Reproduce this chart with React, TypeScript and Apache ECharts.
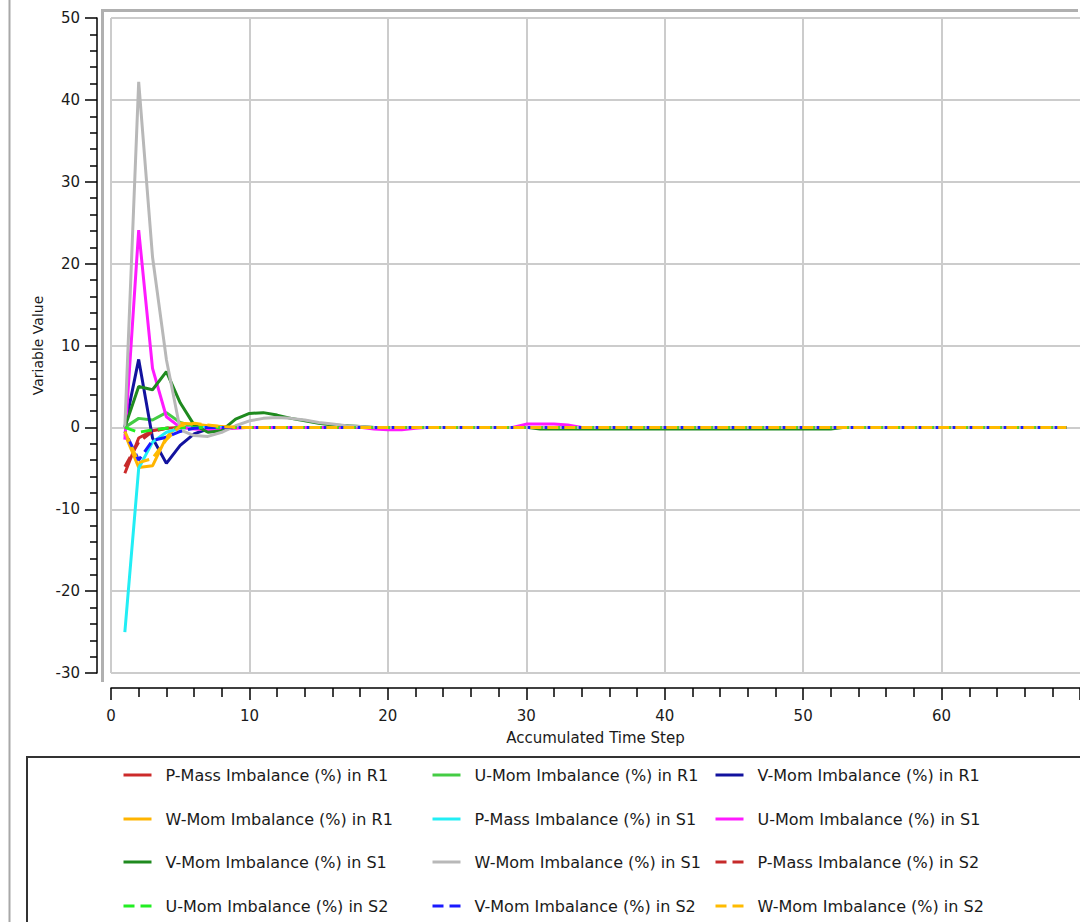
import React, { useEffect, useRef } from "react";
import * as echarts from "echarts";

// Accumulated time steps
const STEPS = [
  1, 2, 3, 4, 5, 6, 7, 8, 9, 10,
  11, 12, 13, 14, 15, 16, 17, 18, 19, 20,
  21, 22, 23, 24, 25, 26, 27, 28, 29, 30,
  31, 32, 33, 34, 35, 36, 37, 38, 39, 40,
  41, 42, 43, 44, 45, 46, 47, 48, 49, 50,
  51, 52, 53, 54, 55, 56, 57, 58, 59, 60,
  61, 62, 63, 64, 65, 66, 67, 68, 69,
];

const P_MASS_R1 = [
  -5.6, -1.3, -0.4, -0.1, 0, 0, 0, 0, 0, 0,
  0, 0, 0, 0, 0, 0, 0, 0, 0, 0,
  0, 0, 0, 0, 0, 0, 0, 0, 0, 0,
  0, 0, 0, 0, 0, 0, 0, 0, 0, 0,
  0, 0, 0, 0, 0, 0, 0, 0, 0, 0,
  0, 0, 0, 0, 0, 0, 0, 0, 0, 0,
  0, 0, 0, 0, 0, 0, 0, 0, 0,
];
const U_MOM_R1 = [
  0, 1.1, 0.9, 1.8, 0.6, 0.1, 0, 0, 0, 0,
  0, 0, 0, 0, 0, 0, 0, 0, 0, 0,
  0, 0, 0, 0, 0, 0, 0, 0, 0, 0,
  0, 0, 0, 0, 0, 0, 0, 0, 0, 0,
  0, 0, 0, 0, 0, 0, 0, 0, 0, 0,
  0, 0, 0, 0, 0, 0, 0, 0, 0, 0,
  0, 0, 0, 0, 0, 0, 0, 0, 0,
];
const V_MOM_R1 = [
  0, 8.3, -1.3, -4.4, -2.2, -0.8, -0.2, 0, 0, 0,
  0, 0, 0, 0, 0, 0, 0, 0, 0, 0,
  0, 0, 0, 0, 0, 0, 0, 0, 0, 0,
  0, 0, 0, 0, 0, 0, 0, 0, 0, 0,
  0, 0, 0, 0, 0, 0, 0, 0, 0, 0,
  0, 0, 0, 0, 0, 0, 0, 0, 0, 0,
  0, 0, 0, 0, 0, 0, 0, 0, 0,
];
const W_MOM_R1 = [
  -0.8, -4.9, -4.7, -1.2, 0.5, 0.4, 0.2, 0.1, 0, 0,
  0, 0, 0, 0, 0, 0, 0, 0, 0, 0,
  0, 0, 0, 0, 0, 0, 0, 0, 0, 0,
  0, 0, 0, 0, 0, 0, 0, 0, 0, 0,
  0, 0, 0, 0, 0, 0, 0, 0, 0, 0,
  0, 0, 0, 0, 0, 0, 0, 0, 0, 0,
  0, 0, 0, 0, 0, 0, 0, 0, 0,
];
const P_MASS_S1 = [
  -25.0, -5.0, -1.8, -0.6, -0.1, 0, 0, 0, 0, 0,
  0, 0, 0, 0, 0, 0, 0, 0, 0, 0,
  0, 0, 0, 0, 0, 0, 0, 0, 0, 0,
  0, 0, 0, 0, 0, 0, 0, 0, 0, 0,
  0, 0, 0, 0, 0, 0, 0, 0, 0, 0,
  0, 0, 0, 0, 0, 0, 0, 0, 0, 0,
  0, 0, 0, 0, 0, 0, 0, 0, 0,
];
const U_MOM_S1 = [
  -1.5, 24.1, 7.2, 1.3, 0, -0.2, -0.3, -0.2, -0.1, 0,
  0, 0, 0, 0, 0, 0, 0, 0, -0.2, -0.3,
  -0.3, -0.1, 0, 0, 0, 0, 0, 0, 0, 0.4,
  0.4, 0.4, 0.3, 0, 0, 0, 0, 0, 0, 0,
  0, 0, 0, 0, 0, 0, 0, 0, 0, 0,
  0, 0, 0, 0, 0, 0, 0, 0, 0, 0,
  0, 0, 0, 0, 0, 0, 0, 0, 0,
];
const V_MOM_S1 = [
  0, 5.0, 4.6, 6.8, 3.0, 0.3, -0.6, -0.4, 1.0, 1.7,
  1.8, 1.5, 1.1, 0.8, 0.5, 0.3, 0.2, 0.1, 0, 0,
  0, 0, 0, 0, 0, 0, 0, 0, 0, 0,
  -0.2, -0.2, -0.2, -0.2, -0.2, -0.2, -0.2, -0.2, -0.2, -0.2,
  -0.2, -0.2, -0.2, -0.2, -0.2, -0.2, -0.2, -0.2, -0.2, -0.2,
  -0.2, -0.2, 0, 0, 0, 0, 0, 0, 0, 0,
  0, 0, 0, 0, 0, 0, 0, 0, 0,
];
const W_MOM_S1 = [
  0, 42.2, 20.8, 8.3, -0.3, -1.0, -1.1, -0.6, 0.2, 0.8,
  1.1, 1.2, 1.1, 0.9, 0.6, 0.4, 0.2, 0.1, 0, 0,
  0, 0, 0, 0, 0, 0, 0, 0, 0, 0,
  0, 0, 0, 0, 0, 0, 0, 0, 0, 0,
  0, 0, 0, 0, 0, 0, 0, 0, 0, 0,
  0, 0, 0, 0, 0, 0, 0, 0, 0, 0,
  0, 0, 0, 0, 0, 0, 0, 0, 0,
];
const P_MASS_S2 = [
  -4.8, -1.8, -0.5, -0.1, 0, 0, 0, 0, 0, 0,
  0, 0, 0, 0, 0, 0, 0, 0, 0, 0,
  0, 0, 0, 0, 0, 0, 0, 0, 0, 0,
  0, 0, 0, 0, 0, 0, 0, 0, 0, 0,
  0, 0, 0, 0, 0, 0, 0, 0, 0, 0,
  0, 0, 0, 0, 0, 0, 0, 0, 0, 0,
  0, 0, 0, 0, 0, 0, 0, 0, 0,
];
const U_MOM_S2 = [
  0, -0.6, -0.3, -0.1, 0, 0, 0, 0, 0, 0,
  0, 0, 0, 0, 0, 0, 0, 0, 0, 0,
  0, 0, 0, 0, 0, 0, 0, 0, 0, 0,
  0, 0, 0, 0, 0, 0, 0, 0, 0, 0,
  0, 0, 0, 0, 0, 0, 0, 0, 0, 0,
  0, 0, 0, 0, 0, 0, 0, 0, 0, 0,
  0, 0, 0, 0, 0, 0, 0, 0, 0,
];
const V_MOM_S2 = [
  -0.5, -4.0, -1.6, -1.2, -0.5, -0.1, 0, 0, 0, 0,
  0, 0, 0, 0, 0, 0, 0, 0, 0, 0,
  0, 0, 0, 0, 0, 0, 0, 0, 0, 0,
  0, 0, 0, 0, 0, 0, 0, 0, 0, 0,
  0, 0, 0, 0, 0, 0, 0, 0, 0, 0,
  0, 0, 0, 0, 0, 0, 0, 0, 0, 0,
  0, 0, 0, 0, 0, 0, 0, 0, 0,
];
const W_MOM_S2 = [
  -0.5, -4.3, -3.8, -1.5, 0.2, 0.5, 0.3, 0.1, 0, 0,
  0, 0, 0, 0, 0, 0, 0, 0, 0, 0,
  0, 0, 0, 0, 0, 0, 0, 0, 0, 0,
  0, 0, 0, 0, 0, 0, 0, 0, 0, 0,
  0, 0, 0, 0, 0, 0, 0, 0, 0, 0,
  0, 0, 0, 0, 0, 0, 0, 0, 0, 0,
  0, 0, 0, 0, 0, 0, 0, 0, 0,
];

const SERIES_NAMES = [
  "P-Mass Imbalance (%) in R1",
  "U-Mom Imbalance (%) in R1",
  "V-Mom Imbalance (%) in R1",
  "W-Mom Imbalance (%) in R1",
  "P-Mass Imbalance (%) in S1",
  "U-Mom Imbalance (%) in S1",
  "V-Mom Imbalance (%) in S1",
  "W-Mom Imbalance (%) in S1",
  "P-Mass Imbalance (%) in S2",
  "U-Mom Imbalance (%) in S2",
  "V-Mom Imbalance (%) in S2",
  "W-Mom Imbalance (%) in S2",
];
const SERIES_VALUES = [
  P_MASS_R1, U_MOM_R1, V_MOM_R1, W_MOM_R1,
  P_MASS_S1, U_MOM_S1, V_MOM_S1, W_MOM_S1,
  P_MASS_S2, U_MOM_S2, V_MOM_S2, W_MOM_S2,
];
const SERIES_COLORS = [
  "#cc2a2a", "#44cc44", "#12129e", "#ffb400",
  "#22eef5", "#ff1aff", "#1f8a1f", "#b8b8b8",
  "#c62a2a", "#22ee22", "#1a1aff", "#ffbb00",
];
const SERIES_DASHED = [
  false, false, false, false,
  false, false, false, false,
  true, true, true, true,
];

const LEGEND_COL_X = [122, 431, 714];
const LEGEND_ROW_Y = [775, 819, 862, 906];

const FONT = "DejaVu Sans";

export default function App() {
  const ref = useRef<HTMLDivElement>(null);

  useEffect(() => {
    if (!ref.current) return;
    const chart = echarts.init(ref.current, undefined, { renderer: "svg" });

    const series = SERIES_NAMES.map((name, i) => ({
      name,
      type: "line",
      data: STEPS.map((x, k) => [x, SERIES_VALUES[i][k]]),
      symbol: "none",
      showSymbol: false,
      lineStyle: {
        color: SERIES_COLORS[i],
        width: 3,
        type: SERIES_DASHED[i] ? [11, 6] : "solid",
        dashOffset: i === 10 ? 9 : 0,
      },
      itemStyle: { color: SERIES_COLORS[i] },
      z: 2 + i * 0.01,
    }));

    const legends = SERIES_NAMES.map((name, i) => ({
      data: [name],
      left: LEGEND_COL_X[i % 3],
      top: LEGEND_ROW_Y[Math.floor(i / 3)] - 8,
      orient: "horizontal",
      itemWidth: 28,
      itemHeight: 14,
      padding: 0,
      selectedMode: false,
      itemStyle: { opacity: 0, color: "transparent", borderColor: "transparent", borderWidth: 0 },
      lineStyle: { width: 3, dashOffset: 0 },
      textStyle: {
        fontFamily: FONT,
        fontSize: 16,
        color: "#1a1a1a",
        padding: [0, 0, 0, 9],
      },
    }));

    const axisLineStyle = { color: "#000", width: 1.5 };

    const option = {
      animation: false,
      backgroundColor: "#ffffff",
      textStyle: { fontFamily: FONT },
      grid: { left: 111, right: 0, top: 18, bottom: 249, containLabel: false },
      xAxis: {
        type: "value",
        min: 0,
        max: 70,
        interval: 10,
        offset: 15,
        name: "Accumulated Time Step",
        nameLocation: "middle",
        nameGap: 42,
        nameTextStyle: { fontFamily: FONT, fontSize: 15, color: "#1a1a1a" },
        axisLine: { show: true, onZero: false, lineStyle: axisLineStyle },
        axisTick: { show: true, length: 12, lineStyle: axisLineStyle },
        minorTick: { show: true, splitNumber: 5, length: 9, lineStyle: axisLineStyle },
        axisLabel: { margin: 20, fontFamily: FONT, fontSize: 15, color: "#1a1a1a", showMaxLabel: false },
        splitLine: { show: true, showMaxLine: false, lineStyle: { color: "#cccccc", width: 2 } },
      },
      yAxis: {
        type: "value",
        min: -30,
        max: 50,
        interval: 10,
        offset: 14,
        name: "Variable Value",
        nameLocation: "middle",
        nameGap: 50,
        nameTextStyle: { fontFamily: FONT, fontSize: 14, color: "#1a1a1a" },
        axisLine: { show: true, onZero: false, lineStyle: axisLineStyle },
        axisTick: { show: true, length: 12, lineStyle: axisLineStyle },
        minorTick: { show: true, splitNumber: 5, length: 7, lineStyle: axisLineStyle },
        axisLabel: { margin: 17, fontFamily: FONT, fontSize: 15, color: "#1a1a1a" },
        splitLine: { show: true, lineStyle: { color: "#cccccc", width: 2 } },
      },
      legend: legends,
      graphic: [
        {
          type: "line",
          shape: { x1: 9.5, y1: 0, x2: 9.5, y2: 922 },
          style: { stroke: "#a8a8a8", lineWidth: 2 },
          z: -1,
        },
        {
          type: "polyline",
          shape: { points: [[102.5, 682], [102.5, 10.5], [1078, 10.5]] },
          style: { stroke: "#b0b0b0", lineWidth: 3, fill: "none" },
          z: -1,
        },
        {
          type: "rect",
          shape: { x: 27, y: 757, width: 1070, height: 200 },
          style: { stroke: "#333333", lineWidth: 2, fill: "none" },
          z: -1,
        },
      ],
      series,
    };

    chart.setOption(option as any);
    return () => chart.dispose();
  }, []);

  return (
    <div
      ref={ref}
      style={{ position: "fixed", left: 0, top: 0, width: 1080, height: 922 }}
    />
  );
}
